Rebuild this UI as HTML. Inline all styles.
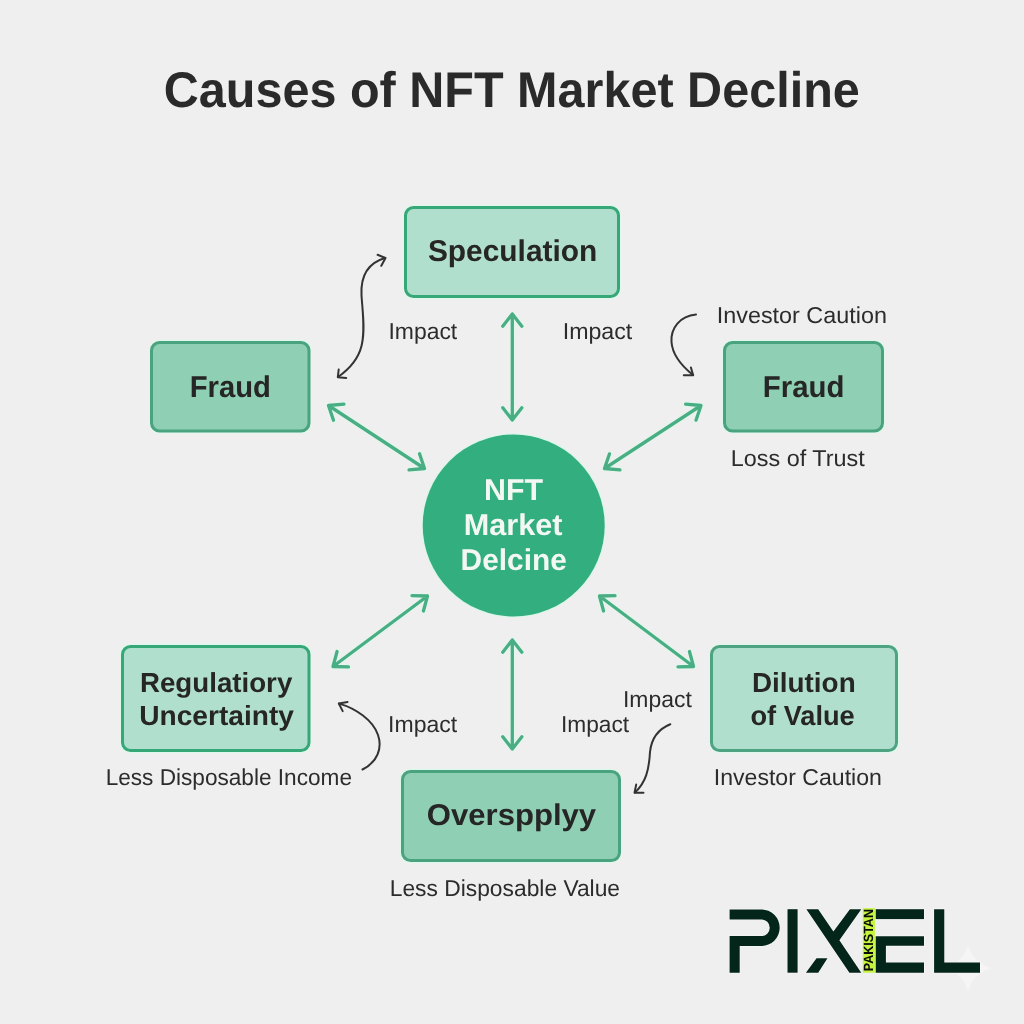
<!DOCTYPE html>
<html><head><meta charset="utf-8"><style>
html,body{margin:0;padding:0;background:#efefef;width:1024px;height:1024px;overflow:hidden;}
svg{display:block;will-change:transform;}
text{font-family:"Liberation Sans",sans-serif;}
</style></head><body>
<svg width="1024" height="1024" viewBox="0 0 1024 1024" text-rendering="geometricPrecision">
<rect width="1024" height="1024" fill="#efefef"/>
<rect x="403.4" y="205.4" width="217.2" height="93.2" rx="9.5" ry="9.5" fill="none" stroke="#e0f7ec" stroke-width="1.3"/><rect x="405.5" y="207.5" width="213" height="89" rx="8" ry="8" fill="#b1dfcd" stroke="#36a878" stroke-width="3"/><rect x="149.4" y="340.4" width="161.7" height="92.7" rx="9.5" ry="9.5" fill="none" stroke="#e0f7ec" stroke-width="1.3"/><rect x="151.5" y="342.5" width="157.5" height="88.5" rx="8" ry="8" fill="#8fcfb3" stroke="#4aa37f" stroke-width="3"/><rect x="722.4" y="340.4" width="162.2" height="92.7" rx="9.5" ry="9.5" fill="none" stroke="#e0f7ec" stroke-width="1.3"/><rect x="724.5" y="342.5" width="158" height="88.5" rx="8" ry="8" fill="#8fcfb3" stroke="#4aa37f" stroke-width="3"/><rect x="120.4" y="644.4" width="190.7" height="108.2" rx="9.5" ry="9.5" fill="none" stroke="#e0f7ec" stroke-width="1.3"/><rect x="122.5" y="646.5" width="186.5" height="104" rx="8" ry="8" fill="#b1dfcd" stroke="#36a878" stroke-width="3"/><rect x="709.4" y="644.4" width="189.2" height="108.2" rx="9.5" ry="9.5" fill="none" stroke="#e0f7ec" stroke-width="1.3"/><rect x="711.5" y="646.5" width="185" height="104" rx="8" ry="8" fill="#b1dfcd" stroke="#4ea482" stroke-width="3"/><rect x="400.4" y="769.4" width="221.2" height="93.2" rx="9.5" ry="9.5" fill="none" stroke="#e0f7ec" stroke-width="1.3"/><rect x="402.5" y="771.5" width="217" height="89" rx="8" ry="8" fill="#8fcfb3" stroke="#4aa37f" stroke-width="3"/>
<circle cx="513.7" cy="525.5" r="91.6" fill="none" stroke="#dcf6ea" stroke-width="1.4"/>
<circle cx="513.7" cy="525.5" r="91" fill="#33ae7e"/>
<path d="M512.3,314 L512.3,420 M502.76,326.21 L512.30,314.00 L521.84,326.21 M521.84,407.79 L512.30,420.00 L502.76,407.79" fill="none" stroke="#e2f7ed" stroke-width="5.2" stroke-linecap="round" stroke-linejoin="round"/><path d="M512.3,314 L512.3,420 M502.76,326.21 L512.30,314.00 L521.84,326.21 M521.84,407.79 L512.30,420.00 L502.76,407.79" fill="none" stroke="#4aae84" stroke-width="3.3" stroke-linecap="round" stroke-linejoin="round"/><path d="M512.3,640 L512.3,749 M502.76,652.21 L512.30,640.00 L521.84,652.21 M521.84,736.79 L512.30,749.00 L502.76,736.79" fill="none" stroke="#e2f7ed" stroke-width="5.2" stroke-linecap="round" stroke-linejoin="round"/><path d="M512.3,640 L512.3,749 M502.76,652.21 L512.30,640.00 L521.84,652.21 M521.84,736.79 L512.30,749.00 L502.76,736.79" fill="none" stroke="#4aae84" stroke-width="3.3" stroke-linecap="round" stroke-linejoin="round"/><path d="M328.5,405.5 L424.5,468.5 M333.48,420.18 L328.50,405.50 L343.95,404.22 M419.52,453.82 L424.50,468.50 L409.05,469.78" fill="none" stroke="#e2f7ed" stroke-width="5.2" stroke-linecap="round" stroke-linejoin="round"/><path d="M328.5,405.5 L424.5,468.5 M333.48,420.18 L328.50,405.50 L343.95,404.22 M419.52,453.82 L424.50,468.50 L409.05,469.78" fill="none" stroke="#4aae84" stroke-width="3.3" stroke-linecap="round" stroke-linejoin="round"/><path d="M701,405.5 L604.5,468.5 M685.56,404.19 L701.00,405.50 L695.99,420.17 M619.94,469.81 L604.50,468.50 L609.51,453.83" fill="none" stroke="#e2f7ed" stroke-width="5.2" stroke-linecap="round" stroke-linejoin="round"/><path d="M701,405.5 L604.5,468.5 M685.56,404.19 L701.00,405.50 L695.99,420.17 M619.94,469.81 L604.50,468.50 L609.51,453.83" fill="none" stroke="#4aae84" stroke-width="3.3" stroke-linecap="round" stroke-linejoin="round"/><path d="M427.5,596 L333,666.5 M412.00,595.65 L427.50,596.00 L423.42,610.95 M348.50,666.85 L333.00,666.50 L337.08,651.55" fill="none" stroke="#e2f7ed" stroke-width="5.2" stroke-linecap="round" stroke-linejoin="round"/><path d="M427.5,596 L333,666.5 M412.00,595.65 L427.50,596.00 L423.42,610.95 M348.50,666.85 L333.00,666.50 L337.08,651.55" fill="none" stroke="#4aae84" stroke-width="3.3" stroke-linecap="round" stroke-linejoin="round"/><path d="M599.5,596 L693.5,666.5 M603.55,610.96 L599.50,596.00 L615.00,595.69 M689.45,651.54 L693.50,666.50 L678.00,666.81" fill="none" stroke="#e2f7ed" stroke-width="5.2" stroke-linecap="round" stroke-linejoin="round"/><path d="M599.5,596 L693.5,666.5 M603.55,610.96 L599.50,596.00 L615.00,595.69 M689.45,651.54 L693.50,666.50 L678.00,666.81" fill="none" stroke="#4aae84" stroke-width="3.3" stroke-linecap="round" stroke-linejoin="round"/>
<path d="M385,258 C368,263 360.5,275 361.5,295 C362.5,312 365.5,330 361.5,346 C358,360 348,370 338,377" fill="none" stroke="#333333" stroke-width="2.0" stroke-linecap="round"/><path d="M377.6,254.8 L385.5,258 L381.3,265.8" fill="none" stroke="#333333" stroke-width="2.0" stroke-linecap="round" stroke-linejoin="round"/><path d="M338.7,369.5 L337.8,377.2 L346.2,378" fill="none" stroke="#333333" stroke-width="2.0" stroke-linecap="round" stroke-linejoin="round"/><path d="M696,314.5 C680,316 670.5,328 671.5,342 C672.5,356 683,367 693,375" fill="none" stroke="#333333" stroke-width="2.0" stroke-linecap="round"/><path d="M690.9,367.5 L693.2,375.3 L683.8,375.3" fill="none" stroke="#333333" stroke-width="2.0" stroke-linecap="round" stroke-linejoin="round"/><path d="M362.5,769.5 C377.5,762 382.5,748 378,735 C373,720 355,708 339,703.6" fill="none" stroke="#333333" stroke-width="2.0" stroke-linecap="round"/><path d="M347.6,701.9 L338.8,703.6 L342.7,711.1" fill="none" stroke="#333333" stroke-width="2.0" stroke-linecap="round" stroke-linejoin="round"/><path d="M670.3,724.2 C656,730 651,742 650,752 C649,770 646,782 635,792.5" fill="none" stroke="#333333" stroke-width="2.0" stroke-linecap="round"/><path d="M636.2,784.6 L634.5,792.8 L643.5,792.8" fill="none" stroke="#333333" stroke-width="2.0" stroke-linecap="round" stroke-linejoin="round"/>
<text x="163.66" y="106.50" font-weight="700" font-size="50" fill="#2a2a2a" textLength="696.16" lengthAdjust="spacingAndGlyphs">Causes of NFT Market Decline</text><text x="427.90" y="261.20" font-weight="700" font-size="30" fill="#262626" textLength="169.42" lengthAdjust="spacingAndGlyphs">Speculation</text><text x="189.75" y="396.70" font-weight="700" font-size="30" fill="#262626" textLength="81.16" lengthAdjust="spacingAndGlyphs">Fraud</text><text x="762.84" y="396.70" font-weight="700" font-size="30" fill="#262626" textLength="81.57" lengthAdjust="spacingAndGlyphs">Fraud</text><text x="139.99" y="692.00" font-weight="700" font-size="27.5" fill="#262626" textLength="152.30" lengthAdjust="spacingAndGlyphs">Regulatiory</text><text x="139.26" y="724.80" font-weight="700" font-size="27.5" fill="#262626" textLength="154.65" lengthAdjust="spacingAndGlyphs">Uncertainty</text><text x="751.97" y="692.30" font-weight="700" font-size="27.5" fill="#262626" textLength="103.69" lengthAdjust="spacingAndGlyphs">Dilution</text><text x="750.41" y="724.70" font-weight="700" font-size="27.5" fill="#262626" textLength="104.34" lengthAdjust="spacingAndGlyphs">of Value</text><text x="426.86" y="824.90" font-weight="700" font-size="30" fill="#262626" textLength="169.27" lengthAdjust="spacingAndGlyphs">Overspplyy</text><text x="483.98" y="499.90" font-weight="700" font-size="30" fill="#f4f8f5" textLength="59.06" lengthAdjust="spacingAndGlyphs">NFT</text><text x="463.76" y="535.00" font-weight="700" font-size="30" fill="#f4f8f5" textLength="98.75" lengthAdjust="spacingAndGlyphs">Market</text><text x="460.61" y="569.60" font-weight="700" font-size="30" fill="#f4f8f5" textLength="106.21" lengthAdjust="spacingAndGlyphs">Delcine</text><text x="388.41" y="338.70" font-weight="400" font-size="23" fill="#2c2c2c" textLength="68.83" lengthAdjust="spacingAndGlyphs">Impact</text><text x="562.69" y="338.90" font-weight="400" font-size="23" fill="#2c2c2c" textLength="69.55" lengthAdjust="spacingAndGlyphs">Impact</text><text x="716.77" y="322.80" font-weight="400" font-size="23" fill="#2c2c2c" textLength="170.14" lengthAdjust="spacingAndGlyphs">Investor Caution</text><text x="730.77" y="465.80" font-weight="400" font-size="23" fill="#2c2c2c" textLength="133.90" lengthAdjust="spacingAndGlyphs">Loss of Trust</text><text x="105.63" y="784.90" font-weight="400" font-size="23" fill="#2c2c2c" textLength="246.33" lengthAdjust="spacingAndGlyphs">Less Disposable Income</text><text x="388.10" y="731.60" font-weight="400" font-size="23" fill="#2c2c2c" textLength="69.13" lengthAdjust="spacingAndGlyphs">Impact</text><text x="623.01" y="706.80" font-weight="400" font-size="23" fill="#2c2c2c" textLength="68.83" lengthAdjust="spacingAndGlyphs">Impact</text><text x="560.92" y="731.70" font-weight="400" font-size="23" fill="#2c2c2c" textLength="68.21" lengthAdjust="spacingAndGlyphs">Impact</text><text x="713.79" y="784.70" font-weight="400" font-size="23" fill="#2c2c2c" textLength="168.10" lengthAdjust="spacingAndGlyphs">Investor Caution</text><text x="389.72" y="895.60" font-weight="400" font-size="23" fill="#2c2c2c" textLength="230.35" lengthAdjust="spacingAndGlyphs">Less Disposable Value</text>

<path d="M968,944 Q973,963 992,968 Q973,973 968,992 Q963,973 944,968 Q963,963 968,944 Z" fill="#f4f5f4"/>
<g fill="#04261a" stroke="#f7f7f7" stroke-width="1.3" paint-order="stroke" stroke-linejoin="miter">
 <path d="M729.6,909.4 H761.4 A18.3,18.3 0 0 1 761.4,946 H739.7 V972.7 H729.6 V936.1 H761.4 A8.35,8.35 0 0 0 761.4,919.4 H729.6 Z"/>
 <rect x="787.5" y="909.2" width="10.1" height="63.5"/>
 <path d="M806.4,909.2 L818.2,909.2 L833.4,931.6 L849.9,909.2 L861.3,909.2 L839.4,940.2 L861.3,972.7 L849.4,972.7 Z"/>
 <path d="M816.5,958.2 L827.5,958.2 L818.2,972.7 L805.9,972.7 Z"/>
 <rect x="875.7" y="909.2" width="48.3" height="9.9"/>
 <path d="M875.7,936.2 H924 V945.8 H885.9 V962.5 H924 V972.7 H875.7 Z"/>
 <path d="M934.1,909.2 H944.3 V962.5 H980 V972.7 H934.1 Z"/>
</g>
<rect x="862.8" y="908.2" width="12.1" height="64.5" fill="#c4f53c"/>
<text transform="translate(872.8,971.3) rotate(-90)" font-size="13.4" font-weight="700" fill="#0a0a0a" textLength="62.3" lengthAdjust="spacingAndGlyphs">PAKISTAN</text>

</svg>
</body></html>
